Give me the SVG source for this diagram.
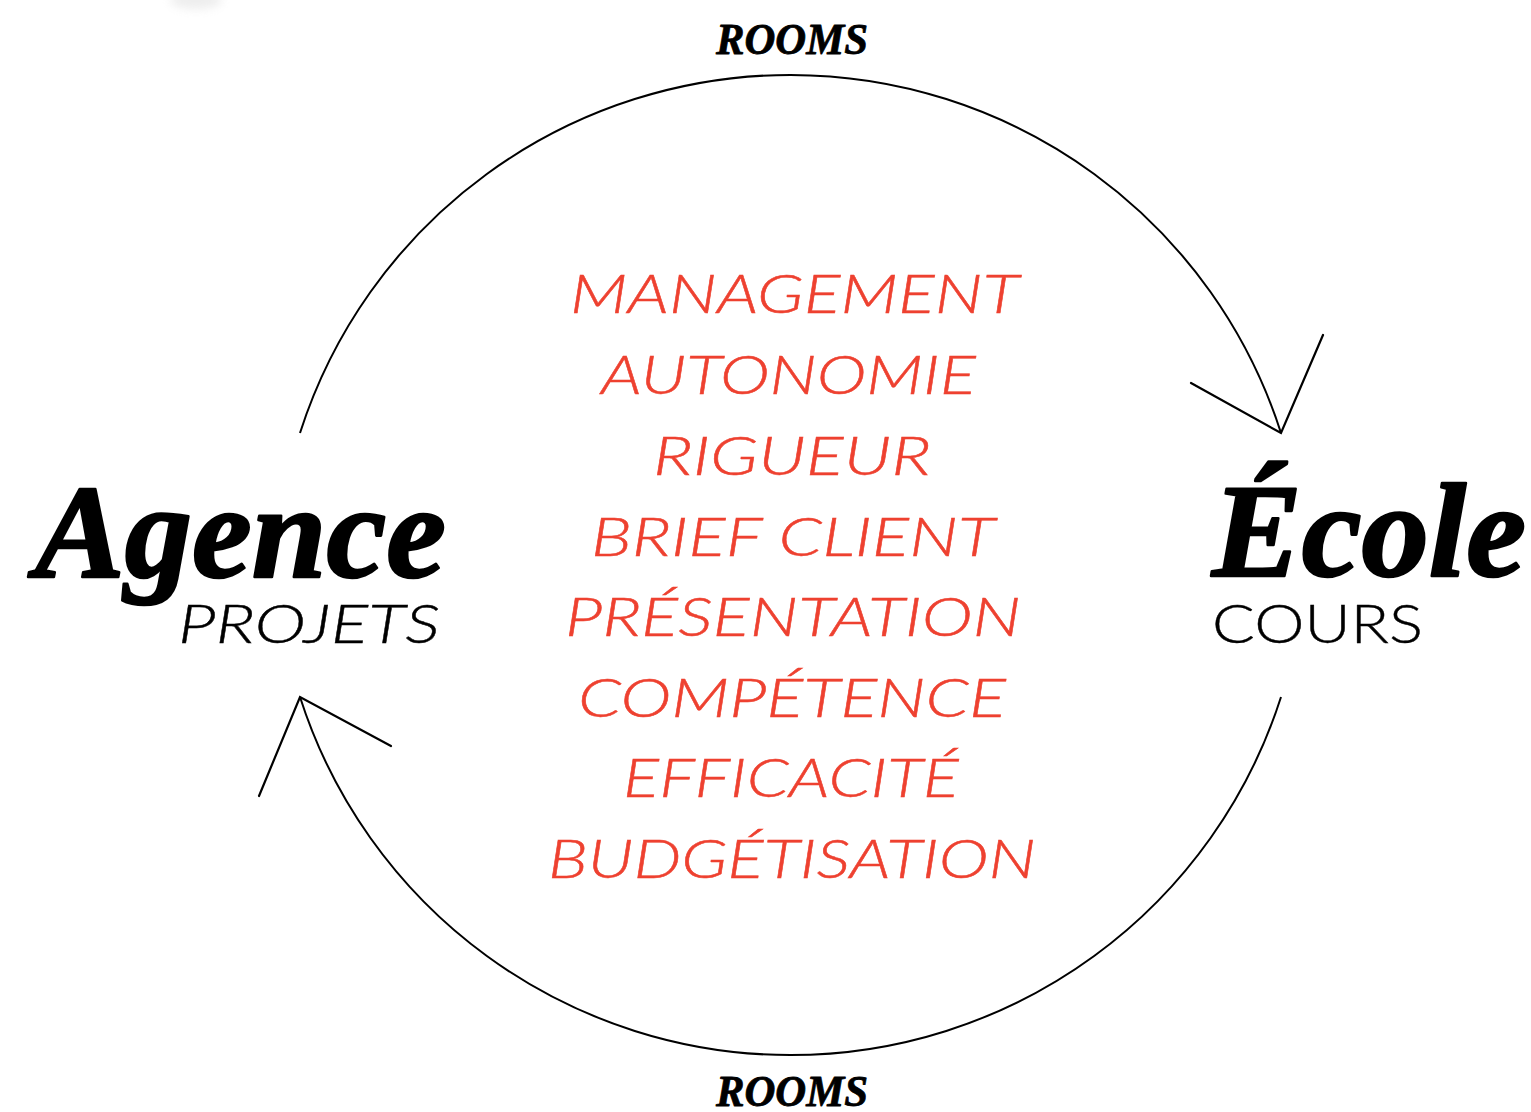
<svg xmlns="http://www.w3.org/2000/svg" width="1531" height="1112" viewBox="0 0 1531 1112">
  <style>
    .title { font-family: "Liberation Serif", "DejaVu Serif", serif; font-weight: 700; font-style: italic; fill: #000; stroke: #000; stroke-linejoin: round; }
    .sub { font-family: Lato, "Open Sans", "Liberation Sans", sans-serif; font-weight: 300; font-size: 53px; fill: #000; stroke: #000; stroke-width: 0.4; }
    .word { font-family: Lato, "Open Sans", "Liberation Sans", sans-serif; font-weight: 300; font-style: italic; font-size: 54px; fill: #EE4130; stroke: #EE4130; stroke-width: 0.5; }
    .arc { fill: none; stroke: #000; stroke-width: 2; }
    .head { fill: none; stroke: #000; stroke-width: 2.2; stroke-linecap: round; stroke-linejoin: miter; }
  </style>
  <defs>
    <filter id="soft" x="-50%" y="-50%" width="200%" height="200%">
      <feGaussianBlur stdDeviation="5"/>
    </filter>
  </defs>

  <rect width="1531" height="1112" fill="#fff"/>
  <ellipse cx="196" cy="0" rx="26" ry="9" fill="#d8d8d8" opacity="0.45" filter="url(#soft)"/>

  <!-- cycle connectors -->
  <g id="connectors">
    <path class="arc" d="M300,433 A515,515 0 0 1 1281,433"/>
    <path class="head" d="M1191,383 L1281,433 L1323,335"/>
    <path class="arc" d="M1281,697 A515,515 0 0 1 300,697"/>
    <path class="head" d="M391,746 L300,697 L259,796"/>
  </g>

  <!-- arc labels -->
  <g id="label-top">
    <text class="title" x="716" y="54" font-size="45" stroke-width="0.8" textLength="152" lengthAdjust="spacingAndGlyphs">ROOMS</text>
  </g>
  <g id="label-bottom">
    <text class="title" x="716" y="1106" font-size="44" stroke-width="0.8" textLength="152" lengthAdjust="spacingAndGlyphs">ROOMS</text>
  </g>

  <!-- left node -->
  <g id="agence">
    <text class="title" x="35" y="577" font-size="134" stroke-width="2.5" textLength="411" lengthAdjust="spacingAndGlyphs">Agence</text>
    <text class="sub" x="178" y="643" font-style="italic" textLength="262" lengthAdjust="spacingAndGlyphs">PROJETS</text>
  </g>

  <!-- right node -->
  <g id="ecole">
    <text class="title" x="1212" y="576" font-size="134" stroke-width="2.5" textLength="314" lengthAdjust="spacingAndGlyphs">École</text>
    <text class="sub" x="1212" y="643" textLength="211" lengthAdjust="spacingAndGlyphs">COURS</text>
  </g>

  <!-- shared skills -->
  <g id="skills">
    <text class="word" x="570" y="313" textLength="449" lengthAdjust="spacingAndGlyphs">MANAGEMENT</text>
    <text class="word" x="601" y="394" textLength="375" lengthAdjust="spacingAndGlyphs">AUTONOMIE</text>
    <text class="word" x="653" y="475" textLength="278" lengthAdjust="spacingAndGlyphs">RIGUEUR</text>
    <text class="word" x="591" y="556" textLength="404" lengthAdjust="spacingAndGlyphs">BRIEF CLIENT</text>
    <text class="word" x="565" y="636" textLength="456" lengthAdjust="spacingAndGlyphs">PRÉSENTATION</text>
    <text class="word" x="578" y="717" textLength="428" lengthAdjust="spacingAndGlyphs">COMPÉTENCE</text>
    <text class="word" x="623" y="797" textLength="336" lengthAdjust="spacingAndGlyphs">EFFICACITÉ</text>
    <text class="word" x="548" y="878" textLength="488" lengthAdjust="spacingAndGlyphs">BUDGÉTISATION</text>
  </g>
</svg>
